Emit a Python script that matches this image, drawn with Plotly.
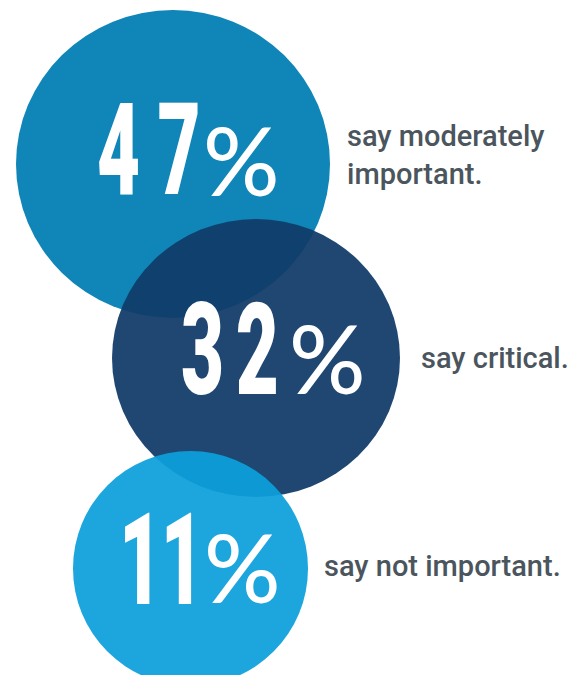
import plotly.graph_objects as go

# Survey responses: share of respondents per rating
shares = [47, 32, 11]
captions = ["say moderately<br>important.", "say critical.", "say not important."]

# Bubble styling (drawn back to front)
fill_colors = ["rgba(15,133,184,1)", "rgba(17,60,105,0.94)", "rgba(12,159,220,0.93)"]

# Bubble bounding boxes in pixel space: (x0, x1, y0, y1)
bubble_boxes = [(16, 330, 10, 318), (112, 400, 219, 497), (73, 308, 451, 686)]
# Left edge / cap-centre of the big figures, left edge / centre of the % signs, captions
figure_pos = [(95, 150), (179, 350), (117, 560)]
pct_pos = [(201, 159), (287, 357), (202, 566)]
caption_pos = [(345, 155), (419, 358), (322, 566)]
# Inter-digit tracking (px, before the horizontal squeeze)
digit_tracking = [30, 20, -2]

W, H = 579, 675

fig = go.Figure()

shapes = []
for (x0, x1, y0, y1), col in zip(bubble_boxes, fill_colors):
    shapes.append(dict(type="circle", xref="x", yref="y", x0=x0, x1=x1, y0=y0, y1=y1,
                       fillcolor=col, line=dict(width=0), layer="below"))


def tracked(s, px):
    """Set the spacing between digits (not after the last one)."""
    return f"<span style=\"letter-spacing:{px}px\">{s[:-1]}</span>{s[-1]}"


annotations = []
for v, (x, y), trk in zip(shares, figure_pos, digit_tracking):
    annotations.append(dict(
        x=x, y=y, xref="x", yref="y", xanchor="left", yanchor="middle",
        text=tracked(str(v), trk), showarrow=False,
        font=dict(family="Roboto", size=128, color="white", weight=900)))

for (x, y) in pct_pos:
    annotations.append(dict(
        x=x, y=y, xref="x", yref="y", xanchor="left", yanchor="middle",
        text="%", showarrow=False,
        font=dict(family="Lato, sans-serif", size=95, color="white", weight=500)))

for c, (x, y) in zip(captions, caption_pos):
    annotations.append(dict(
        x=x, y=y, xref="x", yref="y", xanchor="left", yanchor="middle", align="left",
        text=c, showarrow=False,
        font=dict(family="Roboto, Arial, sans-serif", size=29, color="#4b555d", weight=500)))

# Invisible trace keeps the pixel-space axes active
fig.add_trace(go.Scatter(x=[0, W], y=[0, H], mode="markers",
                         marker=dict(opacity=0), hoverinfo="skip", showlegend=False))

fig.update_layout(
    width=W, height=H, margin=dict(l=0, r=0, t=0, b=0),
    paper_bgcolor="white", plot_bgcolor="white",
    shapes=shapes, annotations=annotations,
    xaxis=dict(range=[0, W], visible=False, fixedrange=True),
    yaxis=dict(range=[H, 0], visible=False, fixedrange=True),
)

# Render the big figures in a tall condensed display style by
# squeezing them horizontally about their left edge.
condense_js = """
var gd = document.getElementById('{plot_id}');
var SX = 0.58;
function condenseFigures() {
  gd.querySelectorAll('g.annotation').forEach(function (a) {
    var t = a.querySelector('text.annotation-text');
    if (!t || !/^\\d+$/.test(t.textContent.trim())) return;
    t.removeAttribute('transform');
    var bb = t.getBBox();
    t.setAttribute('transform',
      'translate(' + bb.x + ',0) scale(' + SX + ',1) translate(' + (-bb.x) + ',0)');
  });
}
condenseFigures();
gd.on('plotly_afterplot', condenseFigures);
"""

fig.write_html("out.html", post_script=condense_js)
